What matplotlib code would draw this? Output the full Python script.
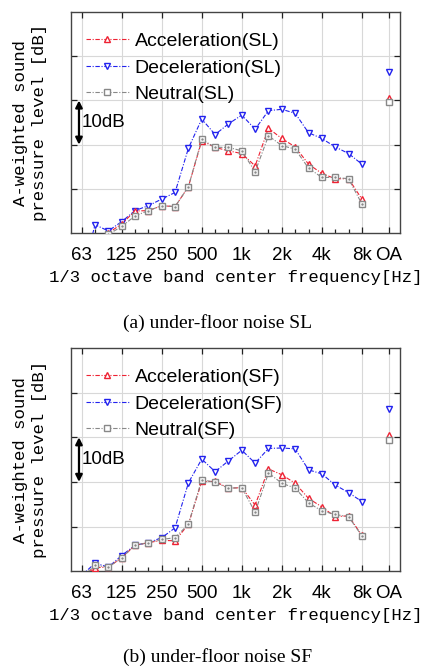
import numpy as np
import matplotlib
matplotlib.use("Agg")
import matplotlib.pyplot as plt

# 1/3 octave band index: 0 = 63 Hz ... 21 = 8 kHz, OA drawn at index 23
band_idx = np.arange(22)
oa_idx = 23
tick_pos = [0, 3, 6, 9, 12, 15, 18, 21, 23]
tick_lab = ["63", "125", "250", "500", "1k", "2k", "4k", "8k", "OA"]

# (a) under-floor noise SL  [dB, arbitrary origin]
acc_sl = [-3.0, -1.0, 0.0, 2.1, 5.0, 5.1, 6.2, 6.0, 10.5, 20.9, 19.4, 18.6,
          18.0, 15.2, 23.7, 21.4, 19.5, 15.6, 13.5, 12.3, 12.3, 7.7]
dec_sl = [-10.0, 1.9, 0.5, 2.6, 5.1, 6.2, 7.7, 9.2, 19.2, 25.8, 22.3, 24.7,
          26.7, 23.5, 27.7, 28.0, 27.1, 22.7, 21.4, 19.5, 18.0, 15.6]
neu_sl = [-3.0, -1.2, -0.3, 1.5, 3.9, 5.1, 6.2, 6.0, 10.5, 21.2, 19.4, 19.4,
          18.6, 13.9, 22.0, 19.8, 19.0, 14.7, 12.6, 12.6, 12.3, 6.6]
oa_sl = [30.5, 36.5, 29.7]  # acc, dec, neu

# (b) under-floor noise SF
acc_sf = [-1.4, 0.8, 0.9, 3.0, 5.8, 6.4, 6.9, 6.8, 10.5, 20.1, 20.1, 18.6,
          18.7, 14.8, 22.9, 21.6, 19.7, 16.3, 14.4, 12.2, 12.4, 8.0]
dec_sf = [-1.0, 1.8, 0.9, 3.5, 5.8, 6.4, 7.5, 9.7, 19.8, 25.1, 22.3, 24.7,
          27.1, 24.2, 27.5, 27.6, 27.4, 22.7, 21.8, 19.3, 17.6, 15.6]
neu_sf = [-1.4, 1.3, 0.9, 3.0, 5.8, 6.4, 7.1, 7.5, 10.5, 20.5, 19.9, 18.6,
          18.7, 13.2, 22.0, 19.7, 18.6, 15.3, 13.5, 12.7, 12.2, 7.9]
oa_sf = [30.6, 36.4, 29.5]

panels = [
    ("SL", acc_sl, dec_sl, neu_sl, oa_sl, "(a) under-floor noise SL"),
    ("SF", acc_sf, dec_sf, neu_sf, oa_sf, "(b) under-floor noise SF"),
]

red = "#ee2233"
blue = "#2222ee"
grey = "#888888"
ls = (0, (4, 1.5, 1, 1.5))
ms_tri = 5.0
ms_sq = 4.3

fig = plt.figure(figsize=(4.25, 6.68), dpi=100)
ax_pos = [[0.167, 0.651, 0.774, 0.331], [0.167, 0.145, 0.774, 0.334]]
cap_y = [0.503, 0.003]

for k, (tag, acc, dec, neu, oa, cap) in enumerate(panels):
    ax = fig.add_axes(ax_pos[k])
    ax.set_xlim(-0.8, 23.85)
    ax.set_ylim(0, 50)

    ax.plot(band_idx, acc, color=red, lw=0.8, ls=ls, marker="^", ms=ms_tri,
            mfc="white", mec=red, mew=1.0, label="Acceleration(%s)" % tag, zorder=4)
    ax.plot(band_idx, dec, color=blue, lw=0.8, ls=ls, marker="v", ms=ms_tri,
            mfc="white", mec=blue, mew=1.0, label="Deceleration(%s)" % tag, zorder=3)
    ax.plot(band_idx, neu, color=grey, lw=0.8, ls=ls, marker="s", ms=ms_sq,
            mfc="white", mec=grey, mew=1.0, label="Neutral(%s)" % tag, zorder=5)
    ax.plot(band_idx, neu, ls="none", marker=".", ms=1.5, color=grey, zorder=6)
    ax.plot([oa_idx], [oa[0]], ls="none", marker="^", ms=ms_tri, mfc="white", mec=red, mew=1.0, zorder=4)
    ax.plot([oa_idx], [oa[1]], ls="none", marker="v", ms=ms_tri, mfc="white", mec=blue, mew=1.0, zorder=3)
    ax.plot([oa_idx], [oa[2]], ls="none", marker="s", ms=ms_sq, mfc="white", mec=grey, mew=1.0, zorder=5)

    # grid
    for x in tick_pos:
        ax.axvline(x, color="#d8d8d8", lw=0.8, zorder=0)
    for y in [10, 20, 30, 40]:
        ax.axhline(y, color="#d8d8d8", lw=0.8, zorder=0)

    ax.set_xticks(tick_pos)
    ax.set_xticklabels(tick_lab, family="Liberation Sans", fontsize=13.5)
    ax.set_xticks(band_idx, minor=True)
    ax.set_yticks([10, 20, 30, 40])
    ax.set_yticklabels([])
    ax.tick_params(axis="both", which="both", direction="in", top=True, right=True,
                   length=4, width=0.9, color="#222222", pad=10)
    ax.tick_params(axis="x", which="minor", length=3, top=False)
    for s in ax.spines.values():
        s.set_color("#444444")
        s.set_linewidth(1.0)

    ax.set_xlabel("1/3 octave band center frequency[Hz]", family="Liberation Mono",
                  fontsize=12.4, labelpad=4)
    ax.set_ylabel("A-weighted sound\npressure level [dB]", family="Liberation Mono",
                  fontsize=12.5, linespacing=1.35, labelpad=7)

    leg = ax.legend(loc="upper left", bbox_to_anchor=(0.01, 0.96), frameon=False,
                    prop={"family": "Liberation Sans", "size": 14},
                    handlelength=2.2, handletextpad=0.3, labelspacing=0.45,
                    borderaxespad=0.2)

    # 10 dB scale arrow
    ax.annotate("", xy=(-0.2, 20), xytext=(-0.2, 30),
                arrowprops=dict(arrowstyle="<|-|>", color="black", lw=1.6,
                                mutation_scale=10, shrinkA=0, shrinkB=0))
    ax.text(0.0, 25, "10dB", family="Liberation Sans", fontsize=13.5,
            ha="left", va="center")

    fig.text(0.513, cap_y[k], cap, family="Liberation Serif", fontsize=14,
             ha="center", va="bottom")

fig.savefig("out.png", dpi=100)
